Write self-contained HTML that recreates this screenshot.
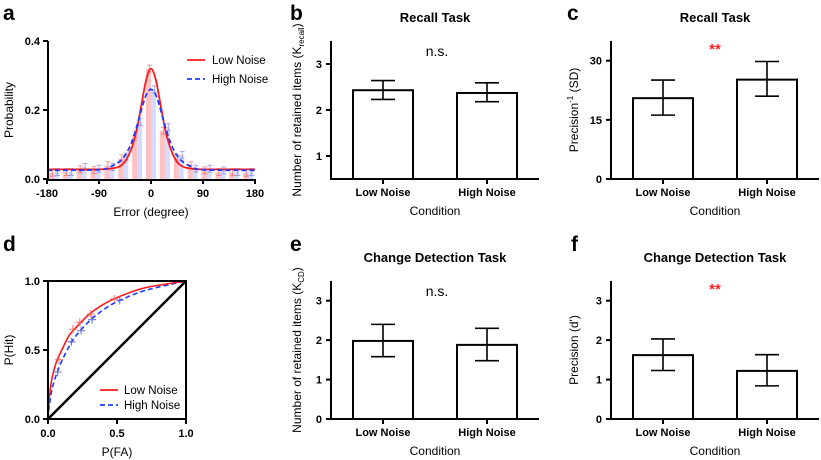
<!DOCTYPE html>
<html><head><meta charset="utf-8"><style>
html,body{margin:0;padding:0;background:#fff;}
svg{display:block;font-family:"Liberation Sans",Arial,sans-serif;}
</style></head><body>
<svg id="fig" width="821" height="460" viewBox="0 0 821 460" xmlns="http://www.w3.org/2000/svg"></svg>
<script>
// ---- Panel a data ----
const aBins=[-168,-144,-120,-96,-72,-48,-24,0,24,48,72,96,120,144,168];
const aLow=[0.018,0.02,0.028,0.026,0.04,0.06,0.13,0.32,0.14,0.06,0.04,0.025,0.02,0.02,0.018];
const aHigh=[0.02,0.02,0.035,0.03,0.035,0.065,0.165,0.26,0.15,0.07,0.03,0.03,0.025,0.02,0.02];
const aCurveX=[-180,-90,-70,-55,-45,-35,-25,-15,-8,0,8,15,25,35,45,55,70,90,180];
const aCurveLow=[0.028,0.028,0.03,0.036,0.05,0.083,0.14,0.23,0.29,0.32,0.29,0.23,0.14,0.083,0.05,0.036,0.03,0.028,0.028];
const aCurveHigh=[0.025,0.027,0.036,0.05,0.068,0.1,0.15,0.21,0.245,0.26,0.245,0.21,0.15,0.1,0.068,0.05,0.036,0.027,0.025];
const aXTicks=[-180,-90,0,90,180];
const aYTicks=[0,0.2,0.4];
const aYTickLabels=["0.0","0.2","0.4"];
// ---- Panel d data ----
const dLowCurve=[[0,0],[0.01,0.16],[0.03,0.3],[0.06,0.41],[0.1,0.5],[0.15,0.6],[0.2,0.66],[0.3,0.76],[0.4,0.83],[0.5,0.88],[0.7,0.95],[1,1]];
const dHighCurve=[[0,0],[0.01,0.1],[0.03,0.22],[0.06,0.32],[0.1,0.42],[0.15,0.52],[0.2,0.6],[0.3,0.71],[0.4,0.79],[0.5,0.85],[0.7,0.93],[1,1]];
const dLowPts=[[0.08,0.43],[0.18,0.65],[0.23,0.7],[0.31,0.76],[0.48,0.87]];
const dHighPts=[[0.07,0.34],[0.17,0.56],[0.24,0.64],[0.32,0.72],[0.52,0.86]];
const dTicks=[0,0.5,1];
const dTickLabels=["0.0","0.5","1.0"];
// ---- Bar panels data ----
const barCats=["Low Noise","High Noise"];
const bMeans=[2.43,2.37]; const bLo=[2.23,2.18]; const bHi=[2.64,2.59];
const cMeans=[20.5,25.2]; const cLo=[16.2,21.0]; const cHi=[25.1,29.8];
const eMeans=[1.98,1.88]; const eLo=[1.58,1.48]; const eHi=[2.40,2.30];
const fMeans=[1.62,1.22]; const fLo=[1.23,0.84]; const fHi=[2.03,1.63];
const bTicks=[1,2,3]; const cTicks=[0,15,30]; const eTicks=[0,1,2,3]; const fTicks=[0,1,2,3];

const svg=document.getElementById('fig');
const NS='http://www.w3.org/2000/svg';
function mk(tag,attrs,name,parent){
  const el=document.createElementNS(NS,tag);
  for(const k in attrs) el.setAttribute(k,attrs[k]);
  
  
  (parent||svg).appendChild(el);
  return el;
}
function txt(x,y,s,size,name,extra){
  const a=Object.assign({x:x,y:y,'font-size':size,'font-weight':'bold','text-anchor':'middle',fill:'#000'},extra||{});
  const t=mk('text',a,name);
  t.textContent=s;
  return t;
}
function smooth(pts){
  let d='M'+pts[0][0]+','+pts[0][1];
  for(let i=0;i<pts.length-1;i++){
    const p0=pts[Math.max(0,i-1)],p1=pts[i],p2=pts[i+1],p3=pts[Math.min(pts.length-1,i+2)];
    const c1=[p1[0]+(p2[0]-p0[0])/6,p1[1]+(p2[1]-p0[1])/6];
    const c2=[p2[0]-(p3[0]-p1[0])/6,p2[1]-(p3[1]-p1[1])/6];
    d+=' C'+c1[0]+','+c1[1]+' '+c2[0]+','+c2[1]+' '+p2[0]+','+p2[1];
  }
  return d;
}
// panel letters
[['a',3,20],['b',290,20],['c',567,20],['d',3,251],['e',290,251],['f',571,251]].forEach(p=>{
  txt(p[1],p[2],p[0],21,'panel-label-'+p[0],{'text-anchor':'start'});
});

// ===== Panel a =====
const ax=v=>151+v*(104/180);
const ay=v=>179-v*(138/0.4);
aBins.forEach((b,i)=>{
  mk('rect',{x:ax(b)-5,y:ay(aLow[i]),width:5,height:179-ay(aLow[i]),fill:'rgba(255,120,120,0.45)'},'a-bar-low-'+i);
  mk('rect',{x:ax(b),y:ay(aHigh[i]),width:5,height:179-ay(aHigh[i]),fill:'rgba(140,150,255,0.35)'},'a-bar-high-'+i);
  mk('path',{d:`M${ax(b)-4},${ay(aLow[i]+0.01)}h5M${ax(b)-1.5},${ay(aLow[i]+0.01)}V${ay(aLow[i]-0.01)}M${ax(b)-4},${ay(aLow[i]-0.01)}h5`,stroke:'rgba(240,90,90,0.6)','stroke-width':1,fill:'none'},'a-err-low-'+i);
  mk('path',{d:`M${ax(b)+1},${ay(aHigh[i]+0.01)}h5M${ax(b)+3.5},${ay(aHigh[i]+0.01)}V${ay(aHigh[i]-0.01)}M${ax(b)+1},${ay(aHigh[i]-0.01)}h5`,stroke:'rgba(110,120,220,0.6)','stroke-width':1,fill:'none'},'a-err-high-'+i);
});
mk('path',{d:smooth(aCurveX.map((x,i)=>[ax(x),ay(aCurveLow[i])])),stroke:'#ff1a1a','stroke-width':1.8,fill:'none'},'a-fit-low-noise');
mk('path',{d:smooth(aCurveX.map((x,i)=>[ax(x),ay(aCurveHigh[i])])),stroke:'#1a3dff','stroke-width':1.8,fill:'none','stroke-dasharray':'5,3'},'a-fit-high-noise');
mk('path',{d:'M48,41V180H255',stroke:'#000','stroke-width':2,fill:'none'},'a-axes');
aXTicks.forEach(t=>{mk('line',{x1:ax(t),x2:ax(t),y1:179,y2:184,stroke:'#000','stroke-width':2},'a-x-tick');txt(ax(t),197,String(t),11,'a-x-tick-label');});
aYTicks.forEach((t,i)=>{mk('line',{x1:43,x2:48,y1:ay(t),y2:ay(t),stroke:'#000','stroke-width':2},'a-y-tick');txt(40,ay(t)+4,aYTickLabels[i],11,'a-y-tick-label',{'text-anchor':'end'});});
txt(151,216,'Error (degree)',12,'a-x-axis-title',{'font-weight':'normal'});
txt(0,0,'Probability',12,'a-y-axis-title',{'font-weight':'normal',transform:'translate(13,110) rotate(-90)'});
mk('line',{x1:187,x2:205,y1:60,y2:60,stroke:'#ff1a1a','stroke-width':1.8},'a-legend-low-line');
txt(212,64,'Low Noise',11.5,'a-legend-low-text',{'font-weight':'normal','text-anchor':'start'});
mk('line',{x1:187,x2:205,y1:79,y2:79,stroke:'#1a3dff','stroke-width':1.8,'stroke-dasharray':'5,3'},'a-legend-high-line');
txt(212,83,'High Noise',11.5,'a-legend-high-text',{'font-weight':'normal','text-anchor':'start'});

// ===== Panel d =====
const dx=v=>48+v*138;
const dy=v=>419-v*138;
mk('line',{x1:dx(0),y1:dy(0),x2:dx(1),y2:dy(1),stroke:'#000','stroke-width':2.5},'d-chance-diagonal');
mk('path',{d:smooth(dHighCurve.map(p=>[dx(p[0]),dy(p[1])])),stroke:'#1a3dff','stroke-width':1.6,fill:'none','stroke-dasharray':'5,3'},'d-roc-high-noise');
mk('path',{d:smooth(dLowCurve.map(p=>[dx(p[0]),dy(p[1])])),stroke:'#ff1a1a','stroke-width':1.6,fill:'none'},'d-roc-low-noise');
dLowPts.forEach((p,i)=>{mk('path',{d:`M${dx(p[0])-4},${dy(p[1])}h8M${dx(p[0])},${dy(p[1])-4}v8`,stroke:'rgba(240,90,90,0.7)','stroke-width':1.2},'d-point-low-'+i);});
dHighPts.forEach((p,i)=>{mk('path',{d:`M${dx(p[0])-4},${dy(p[1])}h8M${dx(p[0])},${dy(p[1])-4}v8`,stroke:'rgba(90,100,200,0.8)','stroke-width':1.2},'d-point-high-'+i);});
mk('rect',{x:48,y:281,width:138,height:138,stroke:'#000','stroke-width':2,fill:'none'},'d-frame');
dTicks.forEach((t,i)=>{
  mk('line',{x1:dx(t),x2:dx(t),y1:419,y2:424,stroke:'#000','stroke-width':2},'d-x-tick');
  txt(dx(t),437,dTickLabels[i],11,'d-x-tick-label');
  mk('line',{x1:43,x2:48,y1:dy(t),y2:dy(t),stroke:'#000','stroke-width':2},'d-y-tick');
  txt(40,dy(t)+4,dTickLabels[i],11,'d-y-tick-label',{'text-anchor':'end'});
});
txt(117,456,'P(FA)',12,'d-x-axis-title',{'font-weight':'normal'});
txt(0,0,'P(Hit)',12,'d-y-axis-title',{'font-weight':'normal',transform:'translate(13,350) rotate(-90)'});
mk('line',{x1:100,x2:118,y1:390,y2:390,stroke:'#ff1a1a','stroke-width':1.8},'d-legend-low-line');
txt(124,394,'Low Noise',11.5,'d-legend-low-text',{'font-weight':'normal','text-anchor':'start'});
mk('line',{x1:100,x2:118,y1:405,y2:405,stroke:'#1a3dff','stroke-width':1.8,'stroke-dasharray':'5,3'},'d-legend-high-line');
txt(124,409,'High Noise',11.5,'d-legend-high-text',{'font-weight':'normal','text-anchor':'start'});

// ===== Bar panels =====
function barPanel(p){
  const y=v=>p.y0-(v-p.vmin)*p.scale;
  const centers=[p.x0+52,p.x0+156];
  p.means.forEach((m,i)=>{
    mk('rect',{x:centers[i]-30,y:y(m),width:60,height:p.y0-y(m),fill:'#fff',stroke:'#000','stroke-width':2},p.id+'-bar-'+i);
    mk('path',{d:`M${centers[i]-12},${y(p.hi[i])}h24M${centers[i]},${y(p.hi[i])}V${y(p.lo[i])}M${centers[i]-12},${y(p.lo[i])}h24`,stroke:'#000','stroke-width':1.6,fill:'none'},p.id+'-error-bar-'+i);
    mk('line',{x1:centers[i],x2:centers[i],y1:p.y0,y2:p.y0+5,stroke:'#000','stroke-width':2},p.id+'-x-tick');
    txt(centers[i],p.y0+17,barCats[i],11,p.id+'-x-tick-label');
  });
  mk('path',{d:`M${p.x0},${y(p.vmax)}V${p.y0}H${p.x0+208}`,stroke:'#000','stroke-width':2,fill:'none'},p.id+'-axes');
  p.ticks.forEach(t=>{
    mk('line',{x1:p.x0-5,x2:p.x0,y1:y(t),y2:y(t),stroke:'#000','stroke-width':2},p.id+'-y-tick');
    txt(p.x0-9,y(t)+4,String(t),11,p.id+'-y-tick-label',{'text-anchor':'end'});
  });
  txt(p.x0+104,p.y0+36,'Condition',12,p.id+'-x-axis-title',{'font-weight':'normal'});
  txt(p.x0+104,p.ty,p.title,13,p.id+'-title');
  if(p.sig==='**') txt(p.x0+104,p.sy+8,'**',15,p.id+'-significance',{fill:'#ff2020'});
  else txt(p.x0+106,p.sy,'n.s.',14,p.id+'-significance',{'font-weight':'normal'});
  const yl=mk('text',{transform:`translate(${p.yl},${(y(p.vmax)+p.y0)/2}) rotate(-90)`,'font-size':12,'text-anchor':'middle'},p.id+'-y-axis-title');
  yl.innerHTML=p.ylabel;
}
barPanel({id:'b',x0:331,y0:179,vmin:0.5,vmax:3.5,scale:46,means:bMeans,lo:bLo,hi:bHi,ticks:bTicks,title:'Recall Task',ty:22,sig:'ns',sy:56,yl:301,
  ylabel:'Number of retained items (K<tspan font-size="8" dy="3">recall</tspan><tspan dy="-3">)</tspan>'});
barPanel({id:'c',x0:611,y0:179,vmin:0,vmax:35,scale:138/35,means:cMeans,lo:cLo,hi:cHi,ticks:cTicks,title:'Recall Task',ty:22,sig:'**',sy:46,yl:578,
  ylabel:'Precision<tspan font-size="8" dy="-5">-1</tspan><tspan dy="5"> (SD)</tspan>'});
barPanel({id:'e',x0:331,y0:419,vmin:0,vmax:3.5,scale:138/3.5,means:eMeans,lo:eLo,hi:eHi,ticks:eTicks,title:'Change Detection Task',ty:262,sig:'ns',sy:296,yl:301,
  ylabel:'Number of retained items (K<tspan font-size="8" dy="3">CD</tspan><tspan dy="-3">)</tspan>'});
barPanel({id:'f',x0:611,y0:419,vmin:0,vmax:3.5,scale:138/3.5,means:fMeans,lo:fLo,hi:fHi,ticks:fTicks,title:'Change Detection Task',ty:262,sig:'**',sy:286,yl:578,
  ylabel:"Precision (d')"});
</script>
</body></html>
